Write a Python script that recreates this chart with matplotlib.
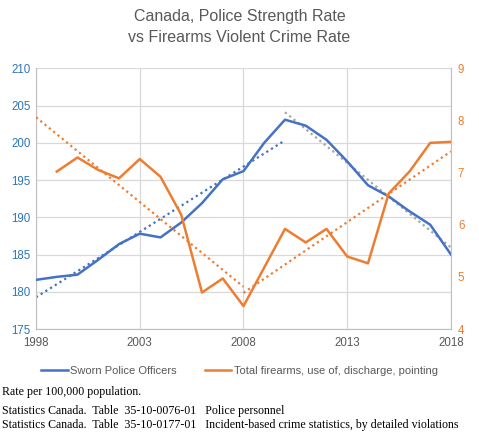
import numpy as np
import matplotlib
matplotlib.use("Agg")
import matplotlib.pyplot as plt

# Rate per 100,000 population
years = np.arange(1998, 2019)
police = [181.6, 182.0, 182.3, 184.3, 186.4, 187.8, 187.3, 189.3, 191.9, 195.1,
          196.2, 200.0, 203.1, 202.3, 200.4, 197.5, 194.3, 192.8, 190.8, 189.0, 185.0]
fire_years = np.arange(1999, 2019)
firearms = [7.02, 7.29, 7.05, 6.89, 7.26, 6.92, 6.19, 4.70, 4.97, 4.44,
            5.18, 5.92, 5.66, 5.92, 5.39, 5.26, 6.60, 7.02, 7.57, 7.59]

blue = "#4472C4"
orange = "#ED7D31"
grey = "#A5A5A5"
txt = "#595959"

plt.rcParams["font.family"] = ["Liberation Sans", "DejaVu Sans"]

fig = plt.figure(figsize=(4.79, 4.37), dpi=100)
ax = fig.add_axes([0.0752, 0.2471, 0.8663, 0.5966])
ax2 = ax.twinx()

ax.plot(years, police, color=blue, lw=1.8, label="Sworn Police Officers", zorder=3)
ax2.plot(fire_years, firearms, color=orange, lw=1.8,
         label="Total firearms, use of, discharge, pointing", zorder=3)

# trend lines (linear fits on sub-periods)
p = np.array(police)
f = np.array(firearms)
m1 = years <= 2010
c = np.polyfit(years[m1], p[m1], 1)
xx = np.array([1998, 2010])
ax.plot(xx, np.polyval(c, xx), color=blue, ls=(0, (1, 1.5)), lw=1.6)
m2 = years >= 2010
c = np.polyfit(years[m2], p[m2], 1)
xx = np.array([2010, 2018])
ax.plot(xx, np.polyval(c, xx), color=grey, ls=(0, (1, 1.5)), lw=1.6)
m3 = fire_years <= 2008
c = np.polyfit(fire_years[m3], f[m3], 1)
xx = np.array([1998, 2008])
ax2.plot(xx, np.polyval(c, xx), color=orange, ls=(0, (1, 1.5)), lw=1.6)
m4 = fire_years >= 2008
c = np.polyfit(fire_years[m4], f[m4], 1)
xx = np.array([2008, 2018])
ax2.plot(xx, np.polyval(c, xx), color=orange, ls=(0, (1, 1.5)), lw=1.6)

ax.set_xlim(1998, 2018)
ax.set_ylim(175, 210)
ax2.set_ylim(4, 9)
ax.set_xticks([1998, 2003, 2008, 2013, 2018])
ax.set_yticks(np.arange(175, 211, 5))
ax2.set_yticks(np.arange(4, 10, 1))
ax.grid(True, color="#D9D9D9", lw=0.9)
ax.set_axisbelow(True)

for a in (ax, ax2):
    for s in a.spines.values():
        s.set_visible(False)
ax.spines["bottom"].set_visible(True)
ax.spines["bottom"].set_color("#BFBFBF")
ax.spines["left"].set_visible(True)
ax.spines["left"].set_color("#BFBFBF")
ax2.spines["right"].set_visible(True)
ax2.spines["right"].set_color("#BFBFBF")

ax.tick_params(axis="y", length=0, labelsize=8.3, labelcolor="#2E75B6", pad=4)
ax.tick_params(axis="x", length=0, labelsize=8.3, labelcolor=txt, pad=6)
ax2.tick_params(axis="y", length=0, labelsize=8.3, labelcolor=orange, pad=5)

fig.text(0.5, 0.962, "Canada, Police Strength Rate", ha="center", va="center",
         fontsize=11.5, color=txt)
fig.text(0.5, 0.915, "vs Firearms Violent Crime Rate", ha="center", va="center",
         fontsize=11.5, color=txt)

h1, l1 = ax.get_legend_handles_labels()
h2, l2 = ax2.get_legend_handles_labels()
fig.legend(h1[:1] + h2[:1], l1[:1] + l2[:1], loc="center", bbox_to_anchor=(0.5, 0.151),
           ncol=2, frameon=False, fontsize=8, labelcolor=txt, handlelength=2.4,
           handletextpad=0.2, columnspacing=2.5)

serif = ["Liberation Serif", "DejaVu Serif"]
fig.text(0.005, 0.103, "Rate per 100,000 population.", fontsize=8.6, family=serif, va="center")
fig.text(0.005, 0.060, "Statistics Canada.  Table  35-10-0076-01   Police personnel",
         fontsize=8.6, family=serif, va="center")
fig.text(0.005, 0.027,
         "Statistics Canada.  Table  35-10-0177-01   Incident-based crime statistics, by detailed violations",
         fontsize=8.6, family=serif, va="center")

fig.savefig("out.png", dpi=100)
